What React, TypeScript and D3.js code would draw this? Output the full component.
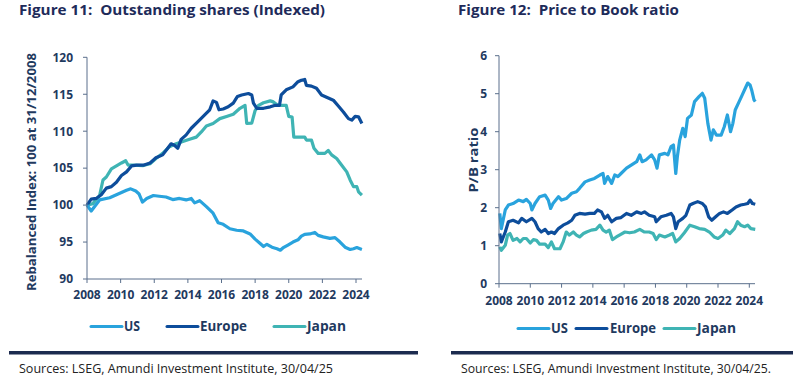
import React from "react";
import * as d3 from "d3";

type Pt = [number, number];

const SERIES_NAMES = ["US", "Europe", "Japan"];
const COLORS = ["#29a3dd", "#0d4d9b", "#3fb4b4"];
const YEAR_TICKS = [2008, 2010, 2012, 2014, 2016, 2018, 2020, 2022, 2024];
const SHARES_TICKS = [90, 95, 100, 105, 110, 115, 120];
const PB_TICKS = [0, 1, 2, 3, 4, 5, 6];

const usShares: Pt[] = [
  [2008, 100], [2008.25, 99.2], [2008.75, 100.7], [2009.35, 101], [2009.95, 101.6], [2010.35, 102],
  [2010.6, 102.2], [2010.9, 101.9], [2011.1, 101.5], [2011.3, 100.4], [2011.55, 100.9], [2011.95, 101.3],
  [2012.3, 101.2], [2012.7, 101.1], [2013.1, 100.75], [2013.5, 100.9], [2013.9, 100.7], [2014.2, 100.9],
  [2014.4, 100.3], [2014.7, 100.6], [2015.1, 99.8], [2015.5, 98.9], [2015.8, 97.6], [2016.1, 97.4],
  [2016.5, 96.8], [2016.9, 96.6], [2017.3, 96.5], [2017.7, 96.1], [2018.0, 95.4], [2018.3, 94.8],
  [2018.5, 94.4], [2018.7, 94.7], [2019.0, 94.3], [2019.3, 94.1], [2019.5, 93.9], [2019.65, 94.2],
  [2019.95, 94.6], [2020.25, 95.0], [2020.55, 95.3], [2020.75, 95.8], [2020.95, 96.05], [2021.25, 96.1],
  [2021.55, 96.3], [2021.75, 95.9], [2022.05, 95.7], [2022.45, 95.5], [2022.75, 95.6], [2023.05, 95.0],
  [2023.35, 94.3], [2023.65, 94.0], [2023.85, 94.1], [2024.05, 94.25], [2024.35, 94.0],
];

const europeShares: Pt[] = [
  [2008, 100], [2008.25, 100.8], [2008.55, 100.9], [2008.85, 101.4], [2009.15, 102.3], [2009.45, 102.5],
  [2009.75, 103.1], [2010.05, 104.0], [2010.35, 104.5], [2010.65, 105.3], [2010.95, 105.4], [2011.35, 105.4],
  [2011.75, 105.7], [2012.1, 106.4], [2012.5, 106.8], [2012.8, 107.7], [2013.0, 108.3], [2013.2, 108.1],
  [2013.4, 107.7], [2013.6, 108.9], [2013.9, 109.5], [2014.2, 110.4], [2014.6, 111.3], [2015.0, 112.2],
  [2015.3, 112.9], [2015.5, 114.1], [2015.7, 113.9], [2015.85, 112.9], [2016.1, 113.0], [2016.4, 113.3],
  [2016.7, 113.8], [2016.95, 114.7], [2017.2, 114.9], [2017.6, 115.1], [2017.8, 114.9], [2017.9, 113.8],
  [2018.1, 113.1], [2018.5, 113.1], [2018.9, 113.3], [2019.2, 113.5], [2019.45, 113.5], [2019.55, 114.9],
  [2019.85, 115.6], [2020.25, 116.0], [2020.55, 116.7], [2020.75, 116.9], [2020.95, 117.0], [2021.05, 116.2],
  [2021.35, 116.1], [2021.65, 115.8], [2021.95, 114.9], [2022.25, 114.6], [2022.65, 114.2], [2022.95, 113.4],
  [2023.25, 112.6], [2023.55, 111.7], [2023.75, 111.5], [2023.95, 112.0], [2024.15, 111.95], [2024.35, 111.05],
];

const japanShares: Pt[] = [
  [2008, 100], [2008.35, 100.2], [2008.75, 101.3], [2008.95, 103.4], [2009.15, 103.8], [2009.45, 104.9],
  [2009.75, 105.3], [2010.05, 105.7], [2010.3, 106.0], [2010.45, 105.4], [2010.75, 105.4], [2011.35, 105.35],
  [2011.75, 105.6], [2012.1, 106.3], [2012.5, 107.0], [2012.9, 107.9], [2013.3, 108.3], [2013.7, 108.6],
  [2014.1, 108.9], [2014.5, 109.2], [2014.8, 109.9], [2015.1, 110.7], [2015.5, 111.05], [2015.9, 111.7],
  [2016.3, 112.0], [2016.7, 112.3], [2017.1, 113.1], [2017.4, 113.5], [2017.5, 111.05], [2017.8, 111.1],
  [2018.0, 112.8], [2018.2, 113.5], [2018.5, 113.85], [2018.9, 114.1], [2019.05, 114.0], [2019.35, 113.5],
  [2019.85, 113.5], [2020.0, 112.0], [2020.2, 111.9], [2020.3, 109.2], [2020.65, 109.2], [2020.95, 109.2],
  [2021.05, 108.8], [2021.35, 108.8], [2021.5, 107.7], [2021.75, 107.0], [2022.15, 107.0], [2022.35, 107.4],
  [2022.55, 106.8], [2022.85, 106.3], [2023.15, 105.4], [2023.45, 104.5], [2023.65, 103.4], [2023.85, 102.5],
  [2024.05, 102.5], [2024.15, 101.8], [2024.35, 101.35],
];

const usPB: Pt[] = [
  [2008.05, 1.85], [2008.15, 1.45], [2008.4, 1.94], [2008.6, 2.07], [2008.9, 2.11], [2009.25, 2.2],
  [2009.55, 2.16], [2009.75, 2.22], [2010.0, 2.11], [2010.1, 1.94], [2010.3, 2.11], [2010.6, 2.29],
  [2010.95, 2.33], [2011.15, 2.2], [2011.3, 1.98], [2011.45, 2.11], [2011.8, 2.29], [2012.0, 2.2],
  [2012.3, 2.24], [2012.65, 2.38], [2012.95, 2.42], [2013.15, 2.51], [2013.5, 2.68], [2013.8, 2.73],
  [2014.1, 2.77], [2014.45, 2.86], [2014.65, 2.9], [2014.75, 2.64], [2014.95, 2.82], [2015.2, 2.64],
  [2015.4, 2.86], [2015.6, 2.82], [2015.8, 2.9], [2016.15, 3.04], [2016.45, 3.12], [2016.8, 3.21],
  [2017.0, 3.39], [2017.15, 3.21], [2017.4, 3.26], [2017.75, 3.39], [2017.95, 3.26], [2018.1, 3.04],
  [2018.25, 3.39], [2018.6, 3.43], [2018.8, 3.39], [2019.0, 3.61], [2019.15, 3.65], [2019.3, 2.9],
  [2019.4, 3.34], [2019.55, 3.78], [2019.75, 4.09], [2019.9, 3.87], [2020.05, 4.35], [2020.3, 4.44],
  [2020.5, 4.79], [2020.8, 4.93], [2021.0, 5.01], [2021.15, 4.88], [2021.35, 4.22], [2021.55, 3.78],
  [2021.7, 4.05], [2021.9, 3.91], [2022.2, 3.91], [2022.4, 4.13], [2022.6, 4.44], [2022.8, 4.0],
  [2022.95, 4.22], [2023.1, 4.57], [2023.35, 4.79], [2023.55, 4.97], [2023.75, 5.15], [2023.9, 5.28],
  [2024.05, 5.23], [2024.15, 5.1], [2024.3, 4.84], [2024.38, 4.79],
];

const europePB: Pt[] = [
  [2008.05, 1.32], [2008.15, 1.1], [2008.4, 1.36], [2008.6, 1.63], [2008.9, 1.67], [2009.25, 1.6],
  [2009.45, 1.72], [2009.75, 1.63], [2010.1, 1.72], [2010.3, 1.63], [2010.5, 1.45], [2010.7, 1.36],
  [2010.95, 1.43], [2011.15, 1.32], [2011.35, 1.36], [2011.55, 1.32], [2011.8, 1.45], [2012.1, 1.54],
  [2012.4, 1.6], [2012.65, 1.67], [2012.85, 1.8], [2013.15, 1.85], [2013.5, 1.83], [2013.8, 1.85],
  [2014.1, 1.85], [2014.3, 1.94], [2014.55, 1.89], [2014.75, 1.72], [2014.95, 1.8], [2015.2, 1.63],
  [2015.5, 1.72], [2015.8, 1.74], [2016.15, 1.85], [2016.45, 1.8], [2016.8, 1.89], [2017.1, 1.85],
  [2017.3, 1.89], [2017.6, 1.8], [2017.95, 1.76], [2018.05, 1.63], [2018.35, 1.76], [2018.7, 1.8],
  [2019.0, 1.85], [2019.15, 1.76], [2019.3, 1.45], [2019.45, 1.63], [2019.75, 1.72], [2019.95, 1.8],
  [2020.2, 2.07], [2020.4, 2.11], [2020.7, 2.16], [2021.0, 2.11], [2021.2, 2.02], [2021.4, 1.76],
  [2021.6, 1.67], [2021.85, 1.76], [2022.1, 1.85], [2022.35, 1.89], [2022.6, 1.85], [2022.9, 1.94],
  [2023.15, 2.02], [2023.45, 2.07], [2023.7, 2.09], [2023.9, 2.11], [2024.05, 2.2], [2024.2, 2.11],
  [2024.38, 2.09],
];

const japanPB: Pt[] = [
  [2008.05, 0.97], [2008.15, 0.88], [2008.4, 1.01], [2008.55, 1.28], [2008.7, 1.32], [2008.9, 1.14],
  [2009.15, 1.19], [2009.35, 1.1], [2009.55, 1.19], [2009.75, 1.19], [2010.0, 1.07], [2010.2, 1.16],
  [2010.4, 1.14], [2010.6, 1.04], [2010.95, 1.04], [2011.15, 0.95], [2011.35, 1.1], [2011.55, 0.92],
  [2011.9, 0.92], [2012.1, 1.1], [2012.3, 1.36], [2012.5, 1.28], [2012.75, 1.36], [2012.95, 1.28],
  [2013.15, 1.23], [2013.4, 1.32], [2013.6, 1.36], [2013.9, 1.41], [2014.2, 1.43], [2014.45, 1.54],
  [2014.65, 1.41], [2014.85, 1.36], [2015.05, 1.41], [2015.25, 1.16], [2015.5, 1.23], [2015.7, 1.28],
  [2016.05, 1.36], [2016.35, 1.34], [2016.65, 1.36], [2017.0, 1.43], [2017.3, 1.36], [2017.6, 1.36],
  [2017.85, 1.32], [2018.05, 1.16], [2018.25, 1.28], [2018.6, 1.23], [2018.9, 1.28], [2019.1, 1.32],
  [2019.3, 1.1], [2019.55, 1.19], [2019.85, 1.34], [2020.2, 1.54], [2020.5, 1.5], [2020.8, 1.45],
  [2021.15, 1.43], [2021.45, 1.36], [2021.75, 1.23], [2022.0, 1.19], [2022.3, 1.28], [2022.5, 1.41],
  [2022.75, 1.32], [2023.05, 1.45], [2023.25, 1.63], [2023.45, 1.54], [2023.7, 1.5], [2023.9, 1.54],
  [2024.1, 1.45], [2024.38, 1.43],
];

const NAVY = "#1e2b5a";
const LABEL = "#1f3a5f";
const AXIS = "#5a6f8c";
const FONT = "'Open Sans', 'Noto Sans', sans-serif";

type PanelProps = {
  x0: number; x1: number; xEnd: number;
  y0: number; y1: number;
  domainY: [number, number];
  yTicks: number[];
  series: Pt[][];
  tickLabelY: number;
  yLabel: string; yLabelX: number; yLabelY: number; yLabelLen: number;
  yTickGap: number;
};

function Panel(p: PanelProps) {
  const x = d3.scaleLinear().domain([2008, 2024]).range([p.x0, p.x1]);
  const y = d3.scaleLinear().domain(p.domainY).range([p.y0, p.y1]);
  const line = d3.line<Pt>().x((d) => x(d[0])).y((d) => y(d[1])).curve(d3.curveLinear);
  const order = [2, 1, 0];
  return (
    <g>
      {order.map((i) => (
        <path key={i} d={line(p.series[i]) || ""} fill="none" stroke={COLORS[i]} strokeWidth={3.2} strokeLinejoin="round" />
      ))}
      <line x1={p.x0} x2={p.x0} y1={p.y0} y2={p.y1} stroke={AXIS} strokeWidth={1} />
      <line x1={p.x0} x2={p.xEnd} y1={p.y0} y2={p.y0} stroke={AXIS} strokeWidth={1} />
      {p.yTicks.map((t) => (
        <g key={t}>
          <line x1={p.x0 - 4} x2={p.x0} y1={y(t)} y2={y(t)} stroke={AXIS} />
          <text x={p.x0 - p.yTickGap} y={y(t) + 4.3} textAnchor="end" fontSize={12} fontWeight={700} fill={LABEL} fontFamily={FONT}>{t}</text>
        </g>
      ))}
      {YEAR_TICKS.map((t) => (
        <g key={t}>
          <line x1={x(t)} x2={x(t)} y1={p.y0} y2={p.y0 + 4} stroke={AXIS} />
          <text x={x(t)} y={p.tickLabelY} textAnchor="middle" fontSize={12} fontWeight={700} fill={LABEL} fontFamily={FONT}>{t}</text>
        </g>
      ))}
      <text
        transform={`translate(${p.yLabelX},${p.yLabelY}) rotate(-90)`}
        textAnchor="middle" fontSize={13} fontWeight={700} fill={LABEL} fontFamily={FONT}
        textLength={p.yLabelLen} lengthAdjust="spacingAndGlyphs"
      >{p.yLabel}</text>
    </g>
  );
}

function Legend({ items }: { items: { lx: number; tx: number; tw: number; y: number }[] }) {
  return (
    <g>
      {items.map((it, i) => (
        <g key={i}>
          <line x1={it.lx} x2={it.lx + 31} y1={it.y - 4.5} y2={it.y - 4.5} stroke={COLORS[i]} strokeWidth={3} strokeLinecap="round" />
          <text x={it.tx} y={it.y} fontSize={14} fontWeight={700} fill={LABEL} fontFamily={FONT}
            textLength={it.tw} lengthAdjust="spacingAndGlyphs">{SERIES_NAMES[i]}</text>
        </g>
      ))}
    </g>
  );
}

export default function App() {
  return (
    <svg width={800} height={379} style={{ position: "absolute", left: 0, top: 0, background: "#fff" }}>
      <text x={19} y={15} fontSize={15} fontWeight={700} fill={NAVY} fontFamily={FONT}
        style={{ whiteSpace: "pre" }}
        textLength={306} lengthAdjust="spacingAndGlyphs">{"Figure 11:  Outstanding shares (Indexed)"}</text>
      <text x={458} y={15} fontSize={15} fontWeight={700} fill={NAVY} fontFamily={FONT}
        style={{ whiteSpace: "pre" }}
        textLength={221} lengthAdjust="spacingAndGlyphs">{"Figure 12:  Price to Book ratio"}</text>

      <Panel x0={87} x1={356} xEnd={362} y0={279} y1={57.3} domainY={[90, 120]} yTicks={SHARES_TICKS}
        series={[usShares, europeShares, japanShares]} tickLabelY={299}
        yLabel="Rebalanced Index: 100 at 31/12/2008" yLabelX={36} yLabelY={172} yLabelLen={238} yTickGap={14} />
      <Panel x0={499} x1={749.3} xEnd={755} y0={283.7} y1={55.7} domainY={[0, 6]} yTicks={PB_TICKS}
        series={[usPB, europePB, japanPB]} tickLabelY={305}
        yLabel="P/B ratio" yLabelX={478} yLabelY={160} yLabelLen={65} yTickGap={12} />

      <Legend items={[
        { lx: 91, tx: 124, tw: 16, y: 331 },
        { lx: 167, tx: 200, tw: 47, y: 331 },
        { lx: 274, tx: 307, tw: 39, y: 331 },
      ]} />
      <Legend items={[
        { lx: 518, tx: 551, tw: 17, y: 333 },
        { lx: 576, tx: 610, tw: 46, y: 333 },
        { lx: 664, tx: 697, tw: 39, y: 333 },
      ]} />

      <rect x={9} y={351} width={409} height={3.5} fill="#1c2b4f" />
      <rect x={451} y={351} width={342} height={3.5} fill="#1c2b4f" />
      <text x={19} y={373} fontSize={12} fill="#222" fontFamily={FONT} textLength={314} lengthAdjust="spacingAndGlyphs">Sources: LSEG, Amundi Investment Institute, 30/04/25</text>
      <text x={461} y={373} fontSize={12} fill="#222" fontFamily={FONT} textLength={310} lengthAdjust="spacingAndGlyphs">Sources: LSEG, Amundi Investment Institute, 30/04/25.</text>
    </svg>
  );
}
